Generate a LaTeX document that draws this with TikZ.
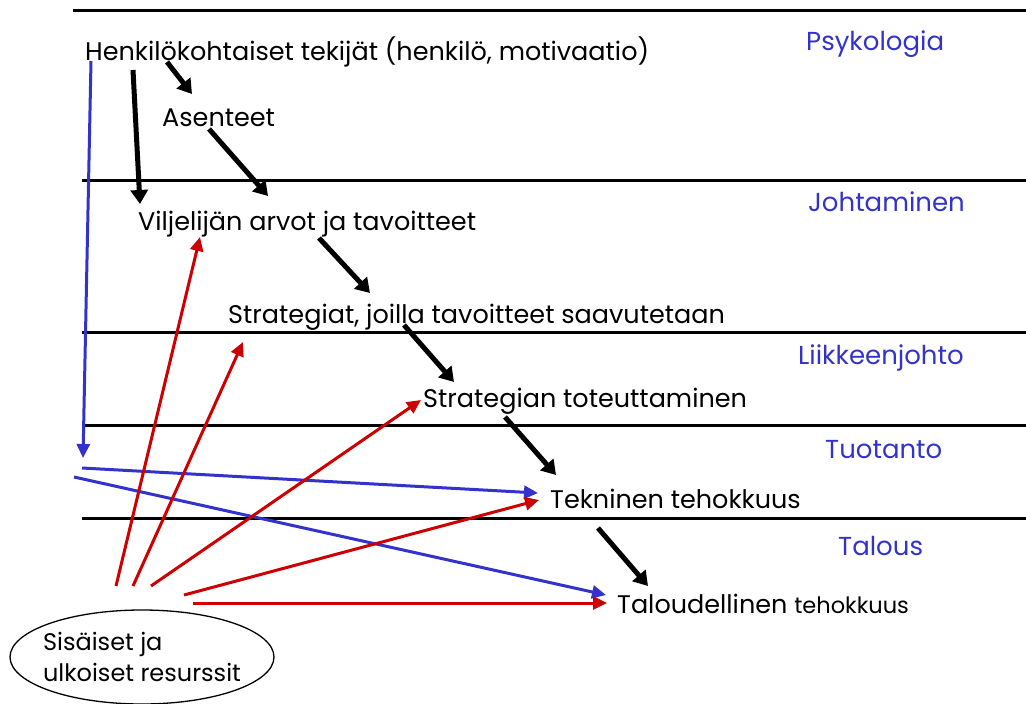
\documentclass[tikz,border=0pt]{standalone}
\usepackage{fontspec}
\setmainfont{Poppins}
\usetikzlibrary{arrows.meta,shapes.geometric}
\definecolor{areablue}{HTML}{3333CC}
\definecolor{resred}{HTML}{CC0000}
\tikzset{
  lbl/.style={anchor=base west, inner sep=0pt, font=\fontsize{25.5}{30}\selectfont},
  area/.style={lbl, text=areablue, font=\fontsize{26}{30}\selectfont},
  lane/.style={line width=3pt},
  push/.style={line width=5pt, -{Triangle[width=17pt,length=14pt]}},
  bluearr/.style={line width=3pt, areablue, -{Triangle[width=13pt,length=14pt]}},
  redarr/.style={line width=3pt, resred, -{Triangle[width=13pt,length=14pt]}}
}
\begin{document}
\begin{tikzpicture}[x=1pt, y=-1pt, line join=round]
\useasboundingbox (0,0) rectangle (1026,704);
% field borders
\draw[lane] (73,10)--(1026,10);
\foreach \y in {180,332,425,518} \draw[lane] (82,\y)--(1026,\y);
% fields
\node[area] at (806,50) {Psykologia};
\node[area] at (808,211) {Johtaminen};
\node[area] at (798,364) {Liikkeenjohto};
\node[area] at (825,458) {Tuotanto};
\node[area] at (838,555) {Talous};
% steps
\node[lbl] (henk) at (85,60) {Henkilökohtaiset tekijät (henkilö, motivaatio)};
\node[lbl] (asen) at (162,126) {Asenteet};
\node[lbl] (vilj) at (138,230) {Viljelijän arvot ja tavoitteet};
\node[lbl] (strat) at (228,323) {Strategiat, joilla tavoitteet saavutetaan};
\node[lbl] (tot) at (423,407) {Strategian toteuttaminen};
\node[lbl] (tekn) at (550,508) {Tekninen tehokkuus};
\node[lbl] (talo) at (617,613) {Taloudellinen {\fontsize{22.5}{26}\selectfont tehokkuus}};
\node[draw, ellipse, line width=1.3pt, minimum width=264pt, minimum height=94pt, inner sep=-7pt,
  align=left, font=\fontsize{24}{31}\selectfont] (res) at (142,657) {Sisäiset ja\\ulkoiset resurssit};
\coordinate (mid) at (83,458);
% black arrows
\draw[push] ([shift={(82,2)}]henk.base west) -- ([shift={(30,-32)}]asen.base west);
\draw[push] ([shift={(48,10)}]henk.base west) -- ([shift={(2,-26)}]vilj.base west);
\draw[push] ([shift={(47,3)}]asen.base west) -- ([shift={(130,-34)}]vilj.base west);
\draw[push] ([shift={(181,8)}]vilj.base west) -- ([shift={(142,-30)}]strat.base west);
\draw[push] ([shift={(176,2)}]strat.base west) -- ([shift={(31,-25)}]tot.base west);
\draw[push] ([shift={(82,10)}]tot.base west) -- ([shift={(6,-33)}]tekn.base west);
\draw[push] ([shift={(48,20)}]tekn.base west) -- ([shift={(31,-27)}]talo.base west);
% blue arrows
\draw[bluearr] ([shift={(6,1)}]henk.base west) -- (mid);
\draw[bluearr] ([shift={(-1,10)}]mid) -- ([shift={(-12,-15)}]tekn.base west);
\draw[bluearr] ([shift={(-9,19)}]mid) -- ([shift={(-11,-18)}]talo.base west);
% red arrows
\draw[redarr] ([shift={(-26,-71)}]res.center) -- ([shift={(62,7)}]vilj.base west);
\draw[redarr] ([shift={(-9,-71)}]res.center) -- ([shift={(15,19)}]strat.base west);
\draw[redarr] ([shift={(9,-71)}]res.center) -- ([shift={(-2,-7)}]tot.base west);
\draw[redarr] ([shift={(42,-62)}]res.center) -- ([shift={(-11,-8)}]tekn.base west);
\draw[redarr] ([shift={(51,-54)}]res.center) -- ([shift={(-10,-10)}]talo.base west);
\end{tikzpicture}
\end{document}
